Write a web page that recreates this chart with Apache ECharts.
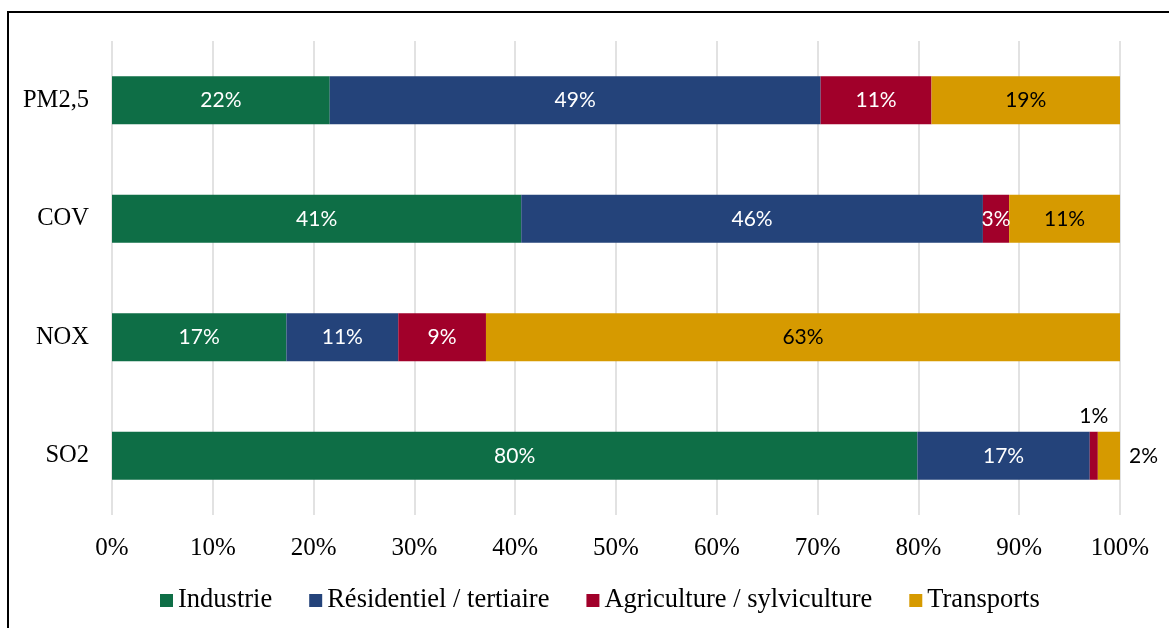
<!DOCTYPE html>
<html>
<head>
<meta charset="utf-8">
<script src="https://cdn.jsdelivr.net/npm/echarts@6/dist/echarts.min.js"></script>
<style>
  html, body { margin: 0; padding: 0; background: #fff; }
  #chart { width: 1169px; height: 628px; }
</style>
</head>
<body>
<div id="chart"></div>
<script>
// polluants (haut -> bas)
const categories = ["PM2,5", "COV", "NOX", "SO2"];
// parts en %
const industrie = [21.6, 40.6, 17.3, 79.9];
const residentiel = [48.7, 45.8, 11.1, 17.1];
const agriculture = [11.0, 2.6, 8.7, 0.8];
const transports = [18.7, 11.0, 62.9, 2.3];
const xTicks = [0, 10, 20, 30, 40, 50, 60, 70, 80, 90, 100];

const serif = "Liberation Serif";
const sans = "Lato";

const pct = (p) => Math.round(p.value) + "%";

// petits segments de SO2 : étiquettes hors de la barre
const outside = {
  "Agriculture / sylviculture": { 3: "top" },
  "Transports": { 3: "right" },
};

const makeSeries = (name, values, color, labelColor) => ({
  name: name,
  type: "bar",
  stack: "total",
  barWidth: "40.5%",
  itemStyle: { color: color },
  label: {
    show: true,
    position: "inside",
    color: labelColor,
    fontFamily: sans,
    fontSize: 21,
    formatter: pct,
  },
  data: values.map((v, i) => {
    const pos = outside[name] && outside[name][i];
    if (!pos) return v;
    return {
      value: v,
      label: { position: pos, color: "#000", distance: pos === "right" ? 9 : 5 },
    };
  }),
});

const chart = echarts.init(document.getElementById("chart"));

const option = {
  animation: false,
  backgroundColor: "#fff",
  graphic: [
    {
      type: "rect",
      shape: { x: 8, y: 12, width: 1200, height: 700 },
      style: { fill: "none", stroke: "#000", lineWidth: 2 },
      silent: true,
    },
  ],
  grid: { left: 112, right: 49, top: 41, bottom: 113 },
  legend: {
    left: 155,
    top: 582,
    itemWidth: 13,
    itemHeight: 13,
    itemGap: 37,
    icon: "rect",
    textStyle: { fontFamily: serif, fontSize: 26.5, color: "#000" },
    data: ["Industrie", "Résidentiel / tertiaire", "Agriculture / sylviculture", "Transports"],
  },
  xAxis: {
    type: "value",
    min: xTicks[0],
    max: xTicks[xTicks.length - 1],
    interval: xTicks[1] - xTicks[0],
    axisLine: { show: false },
    axisTick: { show: false },
    splitLine: { lineStyle: { color: "#d9d9d9", width: 1.5 } },
    axisLabel: {
      formatter: "{value}%",
      fontFamily: serif,
      fontSize: 25,
      color: "#000",
      margin: 21,
    },
  },
  yAxis: {
    type: "category",
    inverse: true,
    data: categories,
    axisLine: { show: false },
    axisTick: { show: false },
    axisLabel: { fontFamily: serif, fontSize: 24.5, color: "#000", margin: 23 },
  },
  series: [
    makeSeries("Industrie", industrie, "#0e6e46", "#fff"),
    makeSeries("Résidentiel / tertiaire", residentiel, "#24437a", "#fff"),
    makeSeries("Agriculture / sylviculture", agriculture, "#a1002a", "#fff"),
    makeSeries("Transports", transports, "#d69a00", "#000"),
  ],
};

chart.setOption(option);
</script>
</body>
</html>
